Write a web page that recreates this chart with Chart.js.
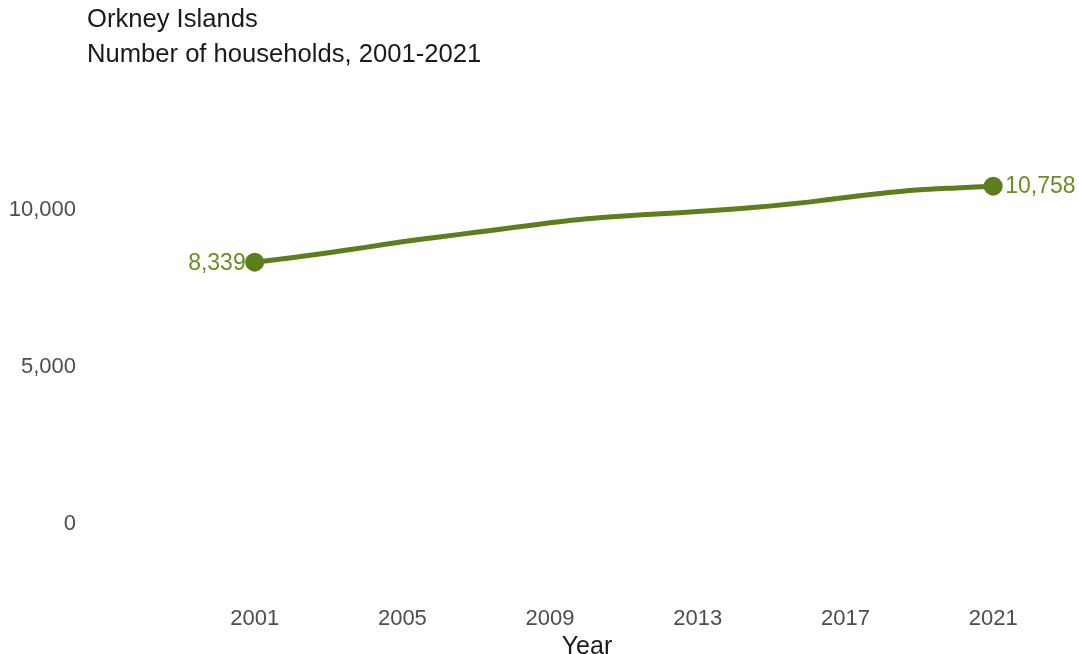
<!DOCTYPE html>
<html>
<head>
<meta charset="utf-8">
<script src="https://cdn.jsdelivr.net/npm/chart.js@4/dist/chart.umd.min.js"></script>
<style>
  body { margin: 0; background: #fff; }
  #wrap { width: 1079px; height: 654px; }
</style>
</head>
<body>
<div id="wrap"><canvas id="myChart" width="1079" height="654"></canvas></div>
<script>
const years = [2001, 2002, 2003, 2004, 2005, 2006, 2007, 2008, 2009, 2010, 2011,
  2012, 2013, 2014, 2015, 2016, 2017, 2018, 2019, 2020, 2021];
const households = [8339, 8480, 8640, 8810, 8990, 9140, 9290, 9440, 9590, 9720, 9810,
  9880, 9950, 10030, 10130, 10250, 10400, 10530, 10640, 10700, 10758];
const xTicks = [2001, 2005, 2009, 2013, 2017, 2021];
const yTicks = [0, 5000, 10000];
const titleLines = ['Orkney Islands', 'Number of households, 2001-2021'];

const lineColor = '#5b7f1c';
const labelColor = '#6b8e23';
const fmt = (v) => v.toLocaleString('en-US');

// title drawn at a fixed left offset, like the original
const titlePlugin = {
  id: 'leftTitle',
  afterDraw(chart) {
    const ctx = chart.ctx;
    ctx.save();
    ctx.font = '25.6px "Liberation Sans", Arial, sans-serif';
    ctx.fillStyle = '#1a1a1a';
    ctx.textAlign = 'left';
    ctx.textBaseline = 'middle';
    ctx.fillText(titleLines[0], 87, 20);
    ctx.fillText(titleLines[1], 87, 55);
    ctx.restore();
  }
};

// value labels next to first and last points
const endLabels = {
  id: 'endLabels',
  afterDatasetsDraw(chart) {
    const ctx = chart.ctx;
    const pts = chart.getDatasetMeta(0).data;
    const first = pts[0], last = pts[pts.length - 1];
    ctx.save();
    ctx.font = '23px "Liberation Sans", Arial, sans-serif';
    ctx.fillStyle = labelColor;
    ctx.textBaseline = 'middle';
    ctx.textAlign = 'right';
    ctx.fillText(fmt(households[0]), first.x - 9, first.y + 2);
    ctx.textAlign = 'left';
    ctx.fillText(fmt(households[households.length - 1]), last.x + 12, last.y + 1);
    ctx.restore();
  }
};

const ctx = document.getElementById('myChart');
new Chart(ctx, {
  type: 'line',
  data: {
    datasets: [{
      data: years.map((y, i) => ({ x: y, y: households[i] })),
      borderColor: lineColor,
      backgroundColor: lineColor,
      borderWidth: 5,
      tension: 0.2,
      pointRadius: years.map((y, i) => (i === 0 || i === years.length - 1) ? 7 : 0),
      pointHoverRadius: 0,
      borderCapStyle: 'round',
    }]
  },
  options: {
    responsive: false,
    animation: false,
    layout: { padding: { left: 0, right: 12, top: 100, bottom: 0 } },
    plugins: {
      legend: { display: false },
      tooltip: { enabled: false },
      title: { display: false },
    },
    scales: {
      x: {
        type: 'linear',
        min: 1997,
        max: 2023,
        grid: { display: false, drawTicks: false },
        border: { display: false },
        afterBuildTicks: (scale) => { scale.ticks = xTicks.map((v) => ({ value: v })); },
        afterFit: (scale) => { scale.height = 67; },
        ticks: {
          padding: 19,
          color: '#4d4d4d',
          font: { family: '"Liberation Sans", Arial, sans-serif', size: 22 },
          callback: (v) => String(v),
          maxRotation: 0,
        },
        title: {
          display: true,
          text: 'Year',
          color: '#1a1a1a',
          font: { family: '"Liberation Sans", Arial, sans-serif', size: 25 },
          padding: { top: 0, bottom: -8 },
        },
      },
      y: {
        min: -2000,
        max: 13500,
        grid: { display: false, drawTicks: false },
        border: { display: false },
        afterBuildTicks: (scale) => { scale.ticks = yTicks.map((v) => ({ value: v })); },
        afterFit: (scale) => { scale.width = 107; },
        ticks: {
          padding: 31,
          color: '#4d4d4d',
          font: { family: '"Liberation Sans", Arial, sans-serif', size: 22 },
          callback: (v) => fmt(v),
        },
      },
    },
  },
  plugins: [titlePlugin, endLabels],
});
</script>
</body>
</html>
